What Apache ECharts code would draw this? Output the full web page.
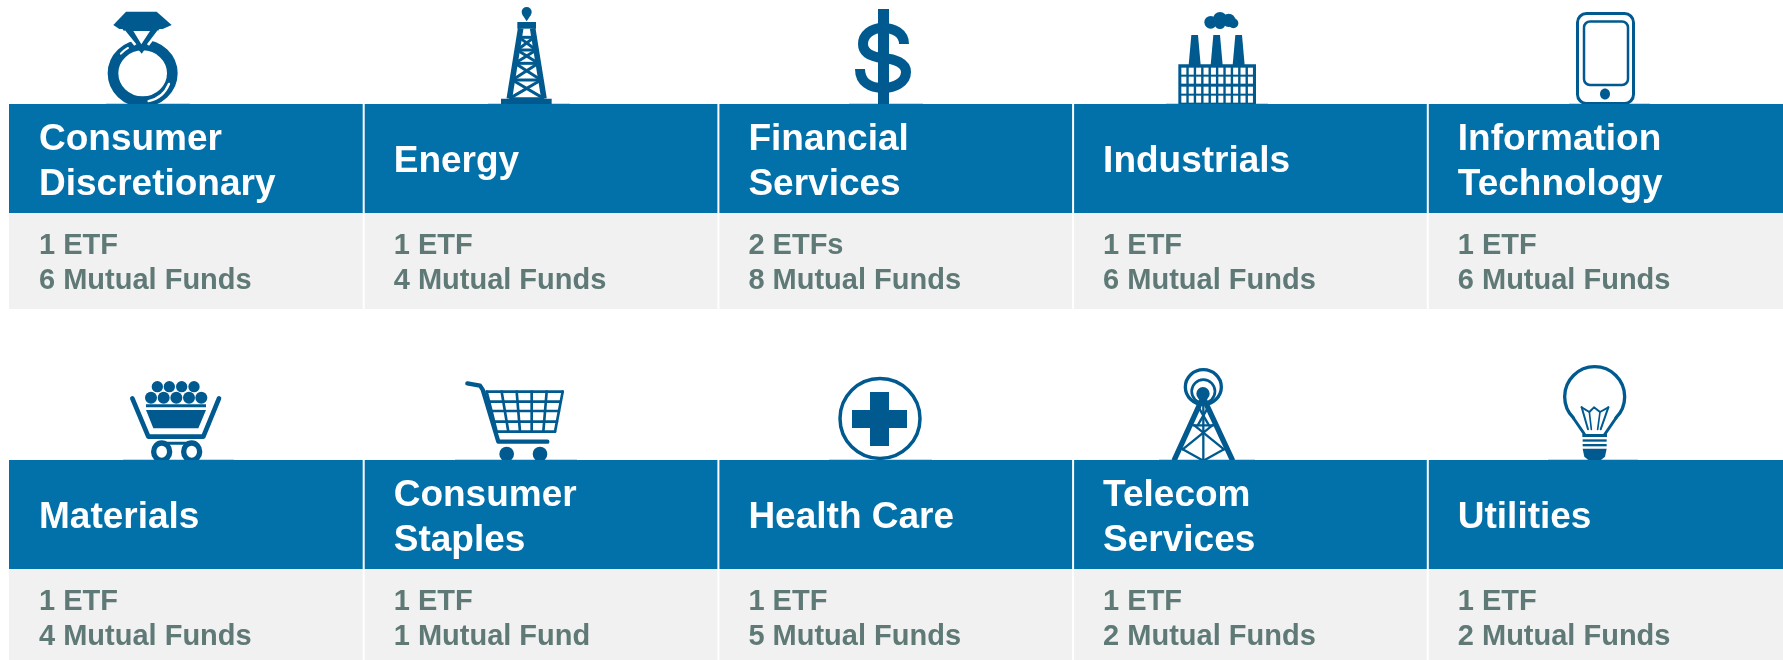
<!DOCTYPE html>
<html>
<head>
<meta charset="utf-8">
<title>Sectors</title>
<script src="https://cdn.jsdelivr.net/npm/echarts@6/dist/echarts.min.js"></script>
<style>
  html, body { margin: 0; padding: 0; background: #fff; overflow: hidden; }
  #main { width: 1783px; height: 660px; }
</style>
</head>
<body>
<div id="main"></div>
<script>
var sectors = [
  'Consumer\nDiscretionary', 'Energy', 'Financial\nServices', 'Industrials', 'Information\nTechnology',
  'Materials', 'Consumer\nStaples', 'Health Care', 'Telecom\nServices', 'Utilities'
];
var etfCounts = [1, 1, 2, 1, 1, 1, 1, 1, 1, 1];
var fundCounts = [6, 4, 8, 6, 6, 4, 1, 5, 2, 2];
var iconNames = ['ring', 'rig', 'dollar', 'factory', 'phone', 'basket', 'cart', 'cross', 'tower', 'bulb'];

var BLUE = '#0271a9';
var ICON = '#005a8f';
var GREY = '#f1f1f1';
var BODY_TEXT = '#5f7a76';
var WHITE = '#ffffff';

// little shape helpers for the pictograms
function poly(points, fill) {
  return { type: 'polygon', shape: { points: points }, style: { fill: fill || ICON } };
}
function line(points, width, color, cap) {
  return {
    type: 'polyline', shape: { points: points },
    style: { fill: null, stroke: color || ICON, lineWidth: width, lineCap: cap || 'round', lineJoin: 'round' }
  };
}
function disc(cx, cy, r, fill) {
  return { type: 'circle', shape: { cx: cx, cy: cy, r: r }, style: { fill: fill || ICON } };
}
function oval(cx, cy, rx, ry, width) {
  return {
    type: 'ellipse', shape: { cx: cx, cy: cy, rx: rx, ry: ry },
    style: { fill: null, stroke: ICON, lineWidth: width }
  };
}
function box(x, y, w, h, fill, r) {
  return { type: 'rect', shape: { x: x, y: y, width: w, height: h, r: r || 0 }, style: { fill: fill || ICON } };
}
function outline(x, y, w, h, r, width) {
  return {
    type: 'rect', shape: { x: x, y: y, width: w, height: h, r: r },
    style: { fill: null, stroke: ICON, lineWidth: width }
  };
}
function arc(cx, cy, r, a0, a1, width, color) {
  return {
    type: 'arc',
    shape: { cx: cx, cy: cy, r: r, startAngle: a0 * Math.PI / 180, endAngle: a1 * Math.PI / 180, clockwise: true },
    style: { fill: null, stroke: color || ICON, lineWidth: width, lineCap: 'round' }
  };
}
function curve(x1, y1, c1x, c1y, c2x, c2y, x2, y2, width) {
  return {
    type: 'bezierCurve',
    shape: { x1: x1, y1: y1, cpx1: c1x, cpy1: c1y, cpx2: c2x, cpy2: c2y, x2: x2, y2: y2 },
    style: { fill: null, stroke: ICON, lineWidth: width, lineCap: 'butt' }
  };
}

// each icon: origin from the cell's top-left, scale, light ground line, shapes
var icons = {
  ring: {
    at: [91, -99], scale: 1 / 3, ground: [18, 270],
    draw: function () {
      return [
        oval(128, 205, 89, 85, 32),
        poly([[58, 60], [187, 60], [125, 146]]),
        poly([[78, 20], [170, 20], [215, 60], [188, 72], [58, 72], [40, 60]]),
        line([[72, 78], [106, 120]], 8, WHITE, 'butt'),
        line([[176, 78], [144, 120]], 8, WHITE, 'butt'),
        poly([[100, 78], [150, 78], [124, 118]], WHITE),
        arc(128, 205, 85, 22, 78, 7, WHITE),
        arc(128, 205, 88, 222, 240, 6, WHITE)
      ];
    }
  },
  rig: {
    at: [126.3, -104], scale: 1 / 3, ground: [-6, 240],
    draw: function () {
      var out = [
        disc(110, 36, 15),
        poly([[97, 44], [123, 44], [110, 64]]),
        box(82, 66, 56, 20),
        box(33, 296, 152, 20),
        line([[92, 85], [58, 296]], 17, ICON, 'butt'),
        line([[128, 85], [162, 296]], 17, ICON, 'butt')
      ];
      var levels = [112, 150, 190, 240, 296];
      function halfWidth(y) { return 18 + (y - 85) * 0.161; }
      levels.forEach(function (y, i) {
        var w = halfWidth(y);
        out.push(line([[110 - w, y], [110 + w, y]], 9, ICON, 'butt'));
        if (i > 0) {
          var p = levels[i - 1], pw = halfWidth(p);
          out.push(line([[110 - pw, p], [110 + w, y]], 9, ICON, 'butt'));
          out.push(line([[110 + pw, p], [110 - w, y]], 9, ICON, 'butt'));
        }
      });
      return out;
    }
  },
  dollar: {
    at: [126.6, -104], scale: 1, ground: [4, 78],
    draw: function () {
      return [
        box(33, 9, 11, 95),
        curve(59, 44, 59, 33, 49, 28, 38, 28, 10),
        curve(38, 28, 26, 28, 18, 35, 18, 44, 10),
        curve(18, 44, 18, 54, 28, 57, 38, 58, 10),
        curve(38, 58, 50, 59, 61, 63, 61, 72, 10),
        curve(61, 72, 61, 82, 50, 88, 38, 88, 10),
        curve(38, 88, 25, 88, 15, 82, 15, 69, 10)
      ];
    }
  },
  factory: {
    at: [96.9, -99], scale: 1 / 3, ground: [-12, 294],
    draw: function () {
      var out = [
        disc(122, 52, 19), disc(150, 42, 21), disc(176, 46, 20), disc(190, 55, 15), disc(150, 56, 16),
        poly([[56, 180], [64, 90], [84, 90], [92, 180]]),
        poly([[122, 180], [130, 90], [150, 90], [158, 180]]),
        poly([[188, 180], [196, 90], [216, 90], [224, 180]]),
        box(25, 178, 233, 122)
      ];
      var rowsTop = [188, 215, 245, 272];
      rowsTop.forEach(function (y) {
        for (var c = 0; c < 10; c++) {
          out.push(box(34 + c * 22.2, y, 15, 21, WHITE));
        }
      });
      return out;
    }
  },
  phone: {
    at: [148.2, -104], scale: 1, ground: [-7, 74],
    draw: function () {
      return [
        outline(1.5, 13.5, 56, 90, 9, 3),
        outline(8, 21.5, 44, 63.5, 6, 2.5),
        { type: 'ellipse', shape: { cx: 29, cy: 94, rx: 5, ry: 5.5 }, style: { fill: ICON } }
      ];
    }
  },
  basket: {
    at: [111, -85], scale: 1 / 3, ground: [9, 342],
    draw: function () {
      var out = [];
      [112, 148, 185, 222].forEach(function (x) { out.push(disc(x, 35, 17)); });
      [93, 131, 169, 207, 244].forEach(function (x) { out.push(disc(x, 68, 18)); });
      out.push(
        box(78, 88, 180, 9),
        poly([[78, 105], [258, 105], [235, 160], [100, 160]]),
        line([[37, 70], [85, 185], [250, 185], [297, 70]], 14),
        line([[125, 205], [215, 205]], 9),
        oval(125, 230, 24, 26, 16),
        oval(215, 230, 24, 26, 16)
      );
      return out;
    }
  },
  cart: {
    at: [96.3, -85], scale: 1 / 3, ground: [-15, 351],
    draw: function () {
      var out = [
        line([[22, 25], [60, 32], [68, 44], [115, 200], [262, 200]], 13),
        disc(140, 237, 22),
        disc(240, 237, 22)
      ];
      var tops = [80, 125, 170, 215, 260, 308];
      var bottoms = [110, 145, 180, 215, 250, 285];
      tops.forEach(function (x, i) { out.push(line([[x, 50], [bottoms[i], 170]], 8)); });
      [[50, 80, 308], [80, 88, 302], [108, 95, 297], [140, 103, 291], [170, 110, 285]].forEach(function (r) {
        out.push(line([[r[1], r[0]], [r[2], r[0]]], 8));
      });
      return out;
    }
  },
  cross: {
    at: [121.6, -83], scale: 1, ground: [-11, 92],
    draw: function () {
      return [
        oval(40, 41.5, 40, 40, 3.5),
        box(30, 15, 19, 54),
        box(12, 33, 55, 18)
      ];
    }
  },
  tower: {
    at: [86.9, -98], scale: 1 / 3, ground: [-3, 285],
    draw: function () {
      return [
        oval(130, 75, 54, 52, 10),
        oval(130, 88, 35, 35, 8),
        disc(129, 95, 20),
        line([[129, 105], [42, 296]], 16, ICON, 'butt'),
        line([[129, 105], [218, 296]], 16, ICON, 'butt'),
        line([[130, 105], [130, 296]], 7, ICON, 'butt'),
        line([[118, 140], [147, 190]], 7),
        line([[142, 140], [113, 190]], 7),
        line([[100, 190], [160, 190]], 7),
        line([[103, 190], [192, 262]], 7),
        line([[157, 190], [68, 262]], 7),
        line([[68, 262], [130, 296]], 7),
        line([[192, 262], [130, 296]], 7)
      ];
    }
  },
  bulb: {
    at: [122.2, -100], scale: 1 / 3, ground: [-6, 264],
    draw: function () {
      return [
        arc(134, 110, 90, 135, 45, 10),
        line([[70, 174], [103, 222]], 9),
        line([[198, 174], [165, 222]], 9),
        line([[95, 142], [118, 156], [132, 142], [150, 156], [175, 142]], 6),
        line([[95, 142], [114, 208]], 6),
        line([[175, 142], [152, 208]], 6),
        line([[118, 156], [124, 208]], 5),
        line([[150, 156], [143, 208]], 5),
        box(97, 222, 74, 9),
        box(98, 238, 72, 7),
        box(98, 252, 72, 7),
        poly([[98, 266], [170, 266], [165, 290], [150, 302], [118, 302], [103, 290]])
      ];
    }
  }
};

var rows = sectors.map(function (name, i) { return [i % 5, Math.floor(i / 5), i]; });

function renderCell(params, api) {
  var i = api.value(2);
  var col = api.value(0);
  var origin = api.coord([col, api.value(1)]);
  var pitch = api.size([1, 0])[0];
  var headH = 109, bodyH = 96;
  var icon = icons[iconNames[i]];
  var x = origin[0], y = origin[1];
  var k = icon.scale;
  // first cell starts flush, the others leave the white gap, last one runs off the page
  var cellX = col === 0 ? x : x + 1;
  var cellW = col === 0 ? pitch - 1 : (col === 4 ? pitch + 4 : pitch - 2);
  return {
    type: 'group',
    children: [
      {
        type: 'rect',
        shape: { x: x + icon.at[0] + icon.ground[0] * k, y: y - 1, width: (icon.ground[1] - icon.ground[0]) * k, height: 1 },
        style: { fill: '#c4d9e4' }
      },
      { type: 'group', x: x + icon.at[0], y: y + icon.at[1], scaleX: k, scaleY: k, children: icon.draw() },
      { type: 'rect', shape: { x: cellX, y: y, width: cellW, height: headH }, style: { fill: BLUE } },
      { type: 'rect', shape: { x: cellX, y: y + headH, width: cellW, height: bodyH }, style: { fill: GREY } },
      {
        type: 'text',
        style: {
          text: sectors[i], x: x + 30, y: y + headH / 2 + 3.5, fill: WHITE,
          font: 'bold 37px "Liberation Sans", Arial, sans-serif', lineHeight: 45,
          align: 'left', verticalAlign: 'middle'
        }
      },
      {
        type: 'text',
        style: {
          text: etfCounts[i] + (etfCounts[i] > 1 ? ' ETFs' : ' ETF') + '\n' +
            fundCounts[i] + (fundCounts[i] > 1 ? ' Mutual Funds' : ' Mutual Fund'),
          x: x + 30, y: y + headH + 50.5, fill: BODY_TEXT,
          font: 'bold 29px "Liberation Sans", Arial, sans-serif', lineHeight: 35,
          align: 'left', verticalAlign: 'middle'
        }
      }
    ]
  };
}

var chart = echarts.init(document.getElementById('main'));
chart.setOption({
  animation: false,
  backgroundColor: '#ffffff',
  grid: { left: 9, top: 104, width: 1773.5, height: 712, outerBoundsMode: 'none' },
  xAxis: { type: 'value', min: 0, max: 5, show: false },
  yAxis: { type: 'value', min: 0, max: 2, inverse: true, show: false },
  series: [{
    type: 'custom',
    coordinateSystem: 'cartesian2d',
    renderItem: renderCell,
    encode: { x: 0, y: 1 },
    clip: false,
    silent: true,
    data: rows
  }]
});
window.onresize = chart.resize;
</script>
</body>
</html>
